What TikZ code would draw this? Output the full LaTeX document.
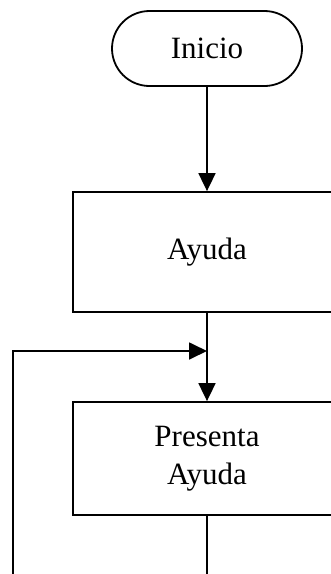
\documentclass[tikz,border=0pt]{standalone}
\usepackage{fontspec}
\setmainfont{Liberation Serif}
\usetikzlibrary{shapes.misc,arrows.meta}
\begin{document}
\begin{tikzpicture}[x=1pt,y=-1pt,
  every node/.style={font=\fontsize{31}{38}\selectfont, align=center, inner sep=0pt},
  term/.style={draw, line width=1.8pt, rounded rectangle, minimum width=190pt, minimum height=75pt, fill=white},
  procbox/.style={draw, line width=1.8pt, rectangle, minimum width=268pt, fill=white},
  conn/.style={line width=1.8pt},
  arr/.style={conn, -{Triangle[length=18pt,width=17pt]}}]
\useasboundingbox (0,0) rectangle (330,574);
\node[term] (inicio) at (207,48.5) {Inicio};
\node[procbox, minimum height=120pt] (ayuda) at (207,252) {Ayuda};
\node[procbox, minimum height=113pt] (presenta) at (207,458.5) {Presenta\\Ayuda};
\coordinate (join) at (207,351);
\coordinate (loopend) at (13,576);
\coordinate (outend) at (207,576);
\draw[arr] (inicio.south) -- (ayuda.north);
\draw[arr] (ayuda.south) -- (presenta.north);
\draw[arr] (loopend) |- (join);
\draw[conn] (presenta.south) -- (outend);
\end{tikzpicture}
\end{document}
